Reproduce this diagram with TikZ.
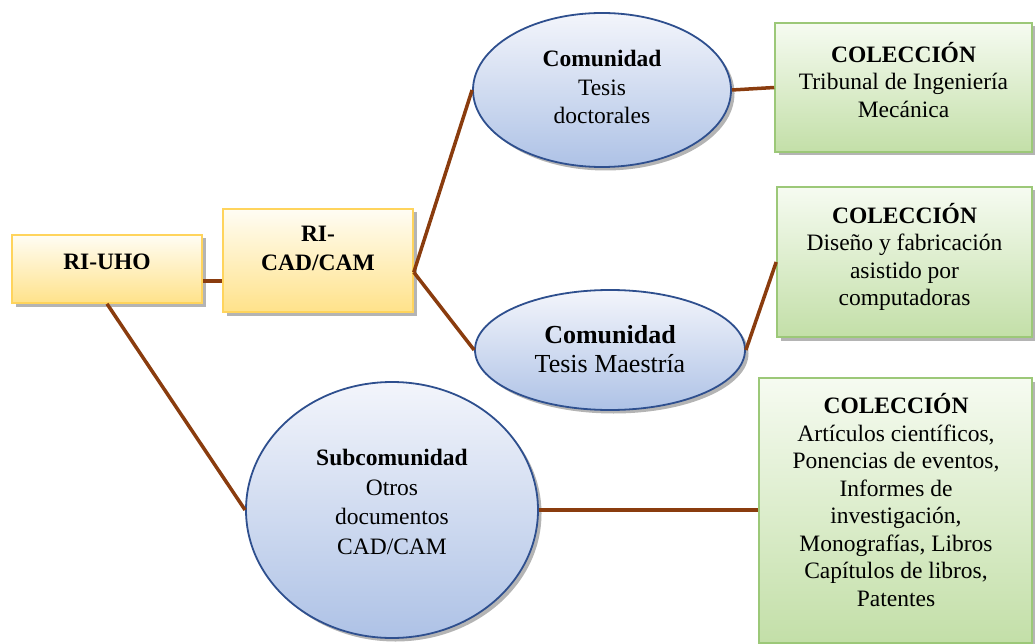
\documentclass[tikz,border=0pt]{standalone}
\usepackage{fontspec}
\setmainfont{Liberation Serif}
\usetikzlibrary{shapes.geometric,shadows,calc}
\definecolor{yelTop}{HTML}{FFFDF4}
\definecolor{yelBot}{HTML}{FFE28A}
\definecolor{yelLine}{HTML}{FFD45C}
\definecolor{grnTop}{HTML}{F6FBF1}
\definecolor{grnBot}{HTML}{C3DFA8}
\definecolor{grnLine}{HTML}{9CC878}
\definecolor{bluTop}{HTML}{F3F5FB}
\definecolor{bluBot}{HTML}{AEC2E6}
\definecolor{bluLine}{HTML}{2E4F8E}
\definecolor{brownL}{HTML}{8A3C0E}
\tikzset{
  shadowstyle/.style={drop shadow={shadow xshift=3.5pt, shadow yshift=-3.5pt, opacity=0.45, fill=black!65}},
  ybox/.style={rectangle, draw=yelLine, line width=1.6pt, top color=yelTop, bottom color=yelBot, shadowstyle, inner sep=0pt},
  gbox/.style={rectangle, draw=grnLine, line width=1.6pt, top color=grnTop, bottom color=grnBot, shadowstyle, inner sep=0pt},
  bell/.style={ellipse, draw=bluLine, line width=1.8pt, top color=bluTop, bottom color=bluBot, shadowstyle, inner sep=0pt},
  txt/.style={align=center, font=\fontsize{23.5}{27.5}\selectfont, inner sep=0pt},
  conn/.style={draw=brownL, line width=3.5pt}
}
\begin{document}
\begin{tikzpicture}[x=1pt,y=-1pt]
\useasboundingbox (0,0) rectangle (1035,644);
% shapes
\node[ybox, minimum width=190pt, minimum height=68pt] (riuho) at (107,269) {};
\node[ybox, minimum width=190pt, minimum height=103pt] (ricad) at (318,260.5) {};
\node[bell, minimum width=258pt, minimum height=154pt] (ell1) at (602,90) {};
\node[bell, minimum width=270pt, minimum height=120pt] (ell2) at (610,350) {};
\node[bell, minimum width=292pt, minimum height=256pt] (sub) at (392,510) {};
\node[gbox, minimum width=257pt, minimum height=129pt] (g1) at (903.5,87.5) {};
\node[gbox, minimum width=255pt, minimum height=150pt] (g2) at (904.5,262) {};
\node[gbox, minimum width=273pt, minimum height=265pt] (g3) at (895.5,510.5) {};
% connectors
\draw[conn] (riuho.-7.8) -- (riuho.-7.8 -| ricad.west);
\draw[conn] (ricad.-7.5) -- (ell1.west);
\draw[conn] (ricad.-7.5) -- (ell2.west);
\draw[conn] (ell1.east) -- (g1.west);
\draw[conn] (ell2.east) -- (g2.west);
\draw[conn] (riuho.south) -- (sub.west);
\draw[conn] (sub.east) -- (sub.east -| g3.west);
% texts
\node[txt, font=\fontsize{23.5}{27.5}\selectfont\bfseries] (triuho) at (107,262) {RI-UHO};
\node[txt, font=\fontsize{23.5}{29}\selectfont\bfseries] (tricad) at (318,248) {RI-\\CAD/CAM};
\node[txt, font=\fontsize{23.5}{28.5}\selectfont] (tell1) at (602,87) {\textbf{Comunidad}\\Tesis\\doctorales};
\node[txt, font=\fontsize{26}{29}\selectfont] (tell2) at (610,349) {\textbf{Comunidad}\\Tesis Maestría};
\node[txt, font=\fontsize{23.5}{29.5}\selectfont] (tsub) at (392,502) {\textbf{Subcomunidad}\\Otros\\documentos\\CAD/CAM};
\node[txt] (tg1) at (903.5,80) {\textbf{COLECCIÓN}\\Tribunal de Ingeniería\\Mecánica};
\node[txt] (tg2) at (904.5,257) {\textbf{COLECCIÓN}\\Diseño y fabricación\\asistido por\\computadoras};
\node[txt] (tg3) at (896,500) {\textbf{COLECCIÓN}\\Artículos científicos,\\Ponencias de eventos,\\Informes de\\investigación,\\Monografías, Libros\\Capítulos de libros,\\Patentes};
\end{tikzpicture}
\end{document}
